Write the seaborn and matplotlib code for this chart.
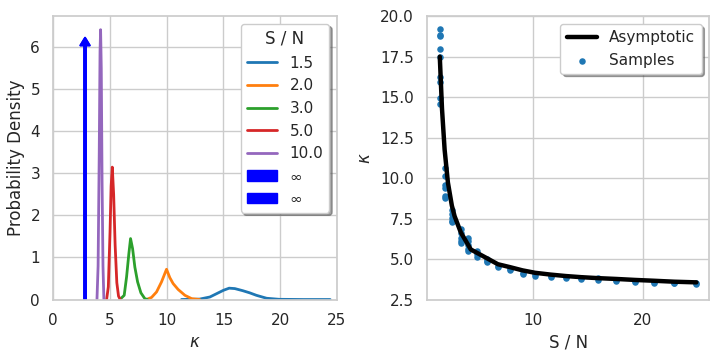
import numpy as np
import matplotlib
matplotlib.use("Agg")
import matplotlib.pyplot as plt
import seaborn as sns

# density curves, one per S / N level
snr_levels = ["1.5", "2.0", "3.0", "5.0", "10.0"]

kde_x_15 = [11.3, 12.9, 13.8, 14.4, 15.0, 15.5, 16.0, 16.7, 17.3, 17.9, 18.8, 19.9, 22.0, 24.4]
kde_y_15 = [0.0, 0.01, 0.06, 0.14, 0.22, 0.27, 0.26, 0.21, 0.16, 0.10, 0.03, 0.005, 0.0, 0.0]

kde_x_20 = [8.2, 8.66, 9.1, 9.54, 9.98, 10.27, 10.56, 11.0, 11.6, 12.2, 12.9]
kde_y_20 = [0.0, 0.05, 0.18, 0.42, 0.72, 0.52, 0.38, 0.24, 0.10, 0.02, 0.0]

kde_x_30 = [5.87, 6.25, 6.46, 6.66, 6.81, 6.99, 7.19, 7.43, 7.72, 8.07, 8.3]
kde_y_30 = [0.0, 0.10, 0.54, 1.09, 1.45, 1.21, 0.77, 0.42, 0.16, 0.02, 0.0]

kde_x_50 = [4.7, 4.85, 5.0, 5.1, 5.2, 5.32, 5.45, 5.6, 5.75, 5.9]
kde_y_50 = [0.0, 0.3, 1.6, 2.7, 3.15, 2.5, 1.3, 0.4, 0.08, 0.0]

kde_x_100 = [3.85, 3.95, 4.05, 4.12, 4.17, 4.23, 4.30, 4.38, 4.46]
kde_y_100 = [0.0, 0.8, 3.5, 5.9, 6.42, 5.5, 2.8, 0.8, 0.0]

# infinite S / N limit, drawn as an arrow
kappa_inf = 2.8
arrow_height = 6.04

# right panel: asymptotic curve
asym_sn = [1.5, 1.7, 1.94, 2.24, 2.6, 2.85, 3.42, 4.33, 5.69, 6.8, 7.9, 9.05,
           10.2, 11.6, 13.0, 14.4, 15.95, 17.6, 19.3, 21.0, 22.9, 24.9]
asym_kappa = [17.5, 14.3, 11.76, 9.73, 8.3, 7.65, 6.64, 5.59, 5.09, 4.68, 4.5, 4.3,
              4.15, 4.04, 3.95, 3.88, 3.82, 3.77, 3.71, 3.66, 3.6, 3.56]

# right panel: samples at each S / N
sn_grid = [1.5, 2.0, 2.6, 3.4, 4.1, 4.9, 5.8, 6.8, 7.9, 9.05,
           10.2, 11.6, 13.0, 14.4, 15.95, 17.6, 19.3, 21.0, 22.9, 24.9]
kappa_samples = [
    [19.2, 18.85, 18.75, 18.0, 17.45, 16.25, 15.95, 14.95, 14.6],
    [10.6, 10.1, 9.6, 9.4, 8.9, 8.8],
    [8.05, 7.8, 7.55, 7.35, 7.3],
    [6.85, 6.6, 6.3, 6.1, 6.0],
    [6.3, 6.1, 5.85, 5.6, 5.5],
    [5.5, 5.3, 5.15],
    [5.0, 4.9, 4.8],
    [4.6, 4.5],
    [4.4, 4.3],
    [4.15, 4.05],
    [4.05, 3.98],
    [3.98, 3.9],
    [3.92, 3.82],
    [3.82, 3.76],
    [3.8, 3.73],
    [3.7, 3.64],
    [3.65, 3.6],
    [3.58, 3.53],
    [3.55, 3.5],
    [3.55, 3.47],
]


def plot_densities(ax):
    curves = [(kde_x_15, kde_y_15), (kde_x_20, kde_y_20), (kde_x_30, kde_y_30),
              (kde_x_50, kde_y_50), (kde_x_100, kde_y_100)]
    colors = sns.color_palette("tab10")
    for i, (xs, ys) in enumerate(curves):
        sns.lineplot(x=xs, y=ys, ax=ax, color=colors[i], label=snr_levels[i],
                     linewidth=2, sort=False)

    # the arrow got added twice, hence two entries in the legend
    for _ in range(2):
        ax.arrow(kappa_inf, 0, 0, arrow_height, width=0.2, head_width=0.9,
                 head_length=0.2, color="blue", label=r"$\infty$")

    ax.set_xlim(0, 25)
    ax.set_xticks([0, 5, 10, 15, 20, 25])
    ax.set_ylim(bottom=0)
    ax.set_xlabel(r"$\kappa$")
    ax.set_ylabel("Probability Density")
    ax.legend(title="S / N", loc="upper right", shadow=True, framealpha=1)


def plot_asymptotic(ax):
    xs = []
    ys = []
    for sn, vals in zip(sn_grid, kappa_samples):
        for v in vals:
            xs.append(sn)
            ys.append(v)

    ax.plot(asym_sn, asym_kappa, color="black", linewidth=3.2, label="Asymptotic")
    sns.scatterplot(x=xs, y=ys, ax=ax, s=22, linewidth=0, color="tab:blue",
                    label="Samples", zorder=1)
    ax.set_ylim(2.5, 20)
    ax.set_yticks(np.arange(2.5, 20.1, 2.5))
    ax.set_xticks([10, 20])
    ax.set_xlabel("S / N")
    ax.set_ylabel(r"$\kappa$")
    ax.legend(loc="upper right", shadow=True, framealpha=1)


def main():
    sns.set_theme(style="whitegrid", context="notebook")
    fig = plt.figure(figsize=(7.2, 3.6), dpi=100)
    ax1 = fig.add_axes([0.074, 0.168, 0.394, 0.787])
    ax2 = fig.add_axes([0.593, 0.168, 0.392, 0.787])
    plot_densities(ax1)
    plot_asymptotic(ax2)
    fig.savefig("out.png", dpi=100)


if __name__ == "__main__":
    main()
